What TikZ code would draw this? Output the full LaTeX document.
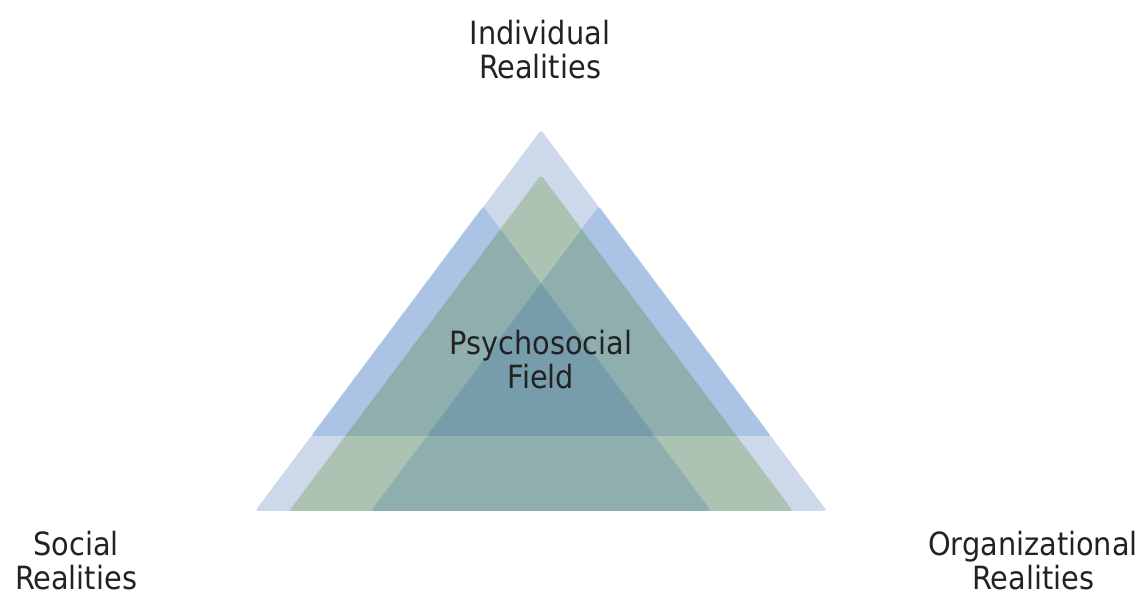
\documentclass[tikz,border=0pt]{standalone}
\usepackage{fontspec}
\setmainfont{DejaVu Sans Condensed}
\usepackage{xcolor}
\usetikzlibrary{positioning}

\definecolor{paleblue}{RGB}{205,217,234}
\definecolor{sagegreen}{RGB}{215,228,194}
\definecolor{midblue}{RGB}{213,230,250}
\definecolor{textgray}{RGB}{34,34,34}

\begin{document}
\begin{tikzpicture}[x=1pt, y=1pt,
    tri/.style={rounded corners=3pt},
    realm/.style={font=\fontsize{32}{34}\selectfont, text=textgray,
                  align=center, inner sep=0pt}]
  \useasboundingbox (0,0) rectangle (1145,599);

  % outer pale triangle
  \fill[tri, paleblue] (541,469) -- (827,88) -- (255,88) -- cycle;

  % overlapping layers, multiplied onto the base
  \begin{scope}[blend mode=multiply]
    \fill[tri, sagegreen] (541,424) -- (793,88) -- (289,88) -- cycle;
    \fill[tri, midblue] (483,393) -- (655,163) -- (311,163) -- cycle;
    \fill[tri, midblue] (599,393) -- (771,163) -- (427,163) -- cycle;
    \fill[tri, midblue] (427,163) -- (655,163) -- (711,88) -- (371,88) -- cycle;
  \end{scope}

  % labels
  \node[realm] (field) at (541,239) {Psychosocial\\Field};
  \node[realm] (indiv) at (540,549) {Individual\\Realities};
  \node[realm] (social) at (76,38) {Social\\Realities};
  \node[realm] (org) at (1033,38) {Organizational\\Realities};
\end{tikzpicture}
\end{document}
